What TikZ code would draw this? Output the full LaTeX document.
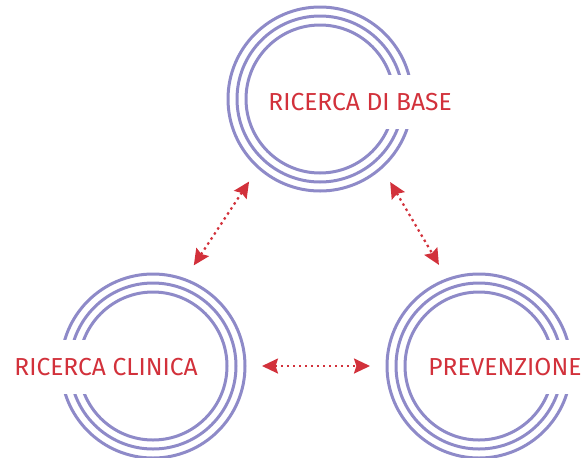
\documentclass[tikz,border=0pt]{standalone}
\usepackage{fontspec}
\setmainfont{Fira Sans}
\usetikzlibrary{arrows.meta}
\definecolor{ringblue}{HTML}{8E8AC8}
\definecolor{labelred}{HTML}{D2313B}
\tikzset{
  area/.style={circle,minimum size=92pt,inner sep=0pt,outer sep=0pt},
  ring/.style={draw=ringblue,line width=1.5pt},
  lbl/.style={fill=white,text=labelred,font=\fontsize{12.3}{14}\selectfont,
    inner xsep=0pt,minimum height=27pt,anchor=west},
  link/.style={draw=labelred,line width=1.1pt,dash pattern=on 1.2pt off 1.8pt,
    {Stealth[length=8pt,width=7.5pt,inset=1.2pt]}-{Stealth[length=8pt,width=7.5pt,inset=1.2pt]},
    shorten <=8.5pt,shorten >=8.5pt}
}
\begin{document}
\begin{tikzpicture}[x=0.5pt,y=0.5pt]
\useasboundingbox (0,0) rectangle (582,457);
% the three areas
\node[area] (base) at (320,358) {};
\node[area] (clin) at (153,91) {};
\node[area] (prev) at (479,91) {};
\foreach \c in {base,clin,prev}
  \foreach \r in {37pt,41.5pt,46pt}
    \draw[ring] (\c.center) circle[radius=\r];
% labels
\node[lbl] (baselbl) at (268,355) {RICERCA DI BASE};
\node[lbl] (clinlbl) at (14,90) {RICERCA CLINICA};
\node[lbl] (prevlbl) at (428,90) {PREVENZIONE};
% links
\draw[link] (base.228) -- (clin.70);
\draw[link] (base.312) -- (prev.110);
\draw[link] (clin.east) -- (prev.west);
\end{tikzpicture}
\end{document}
